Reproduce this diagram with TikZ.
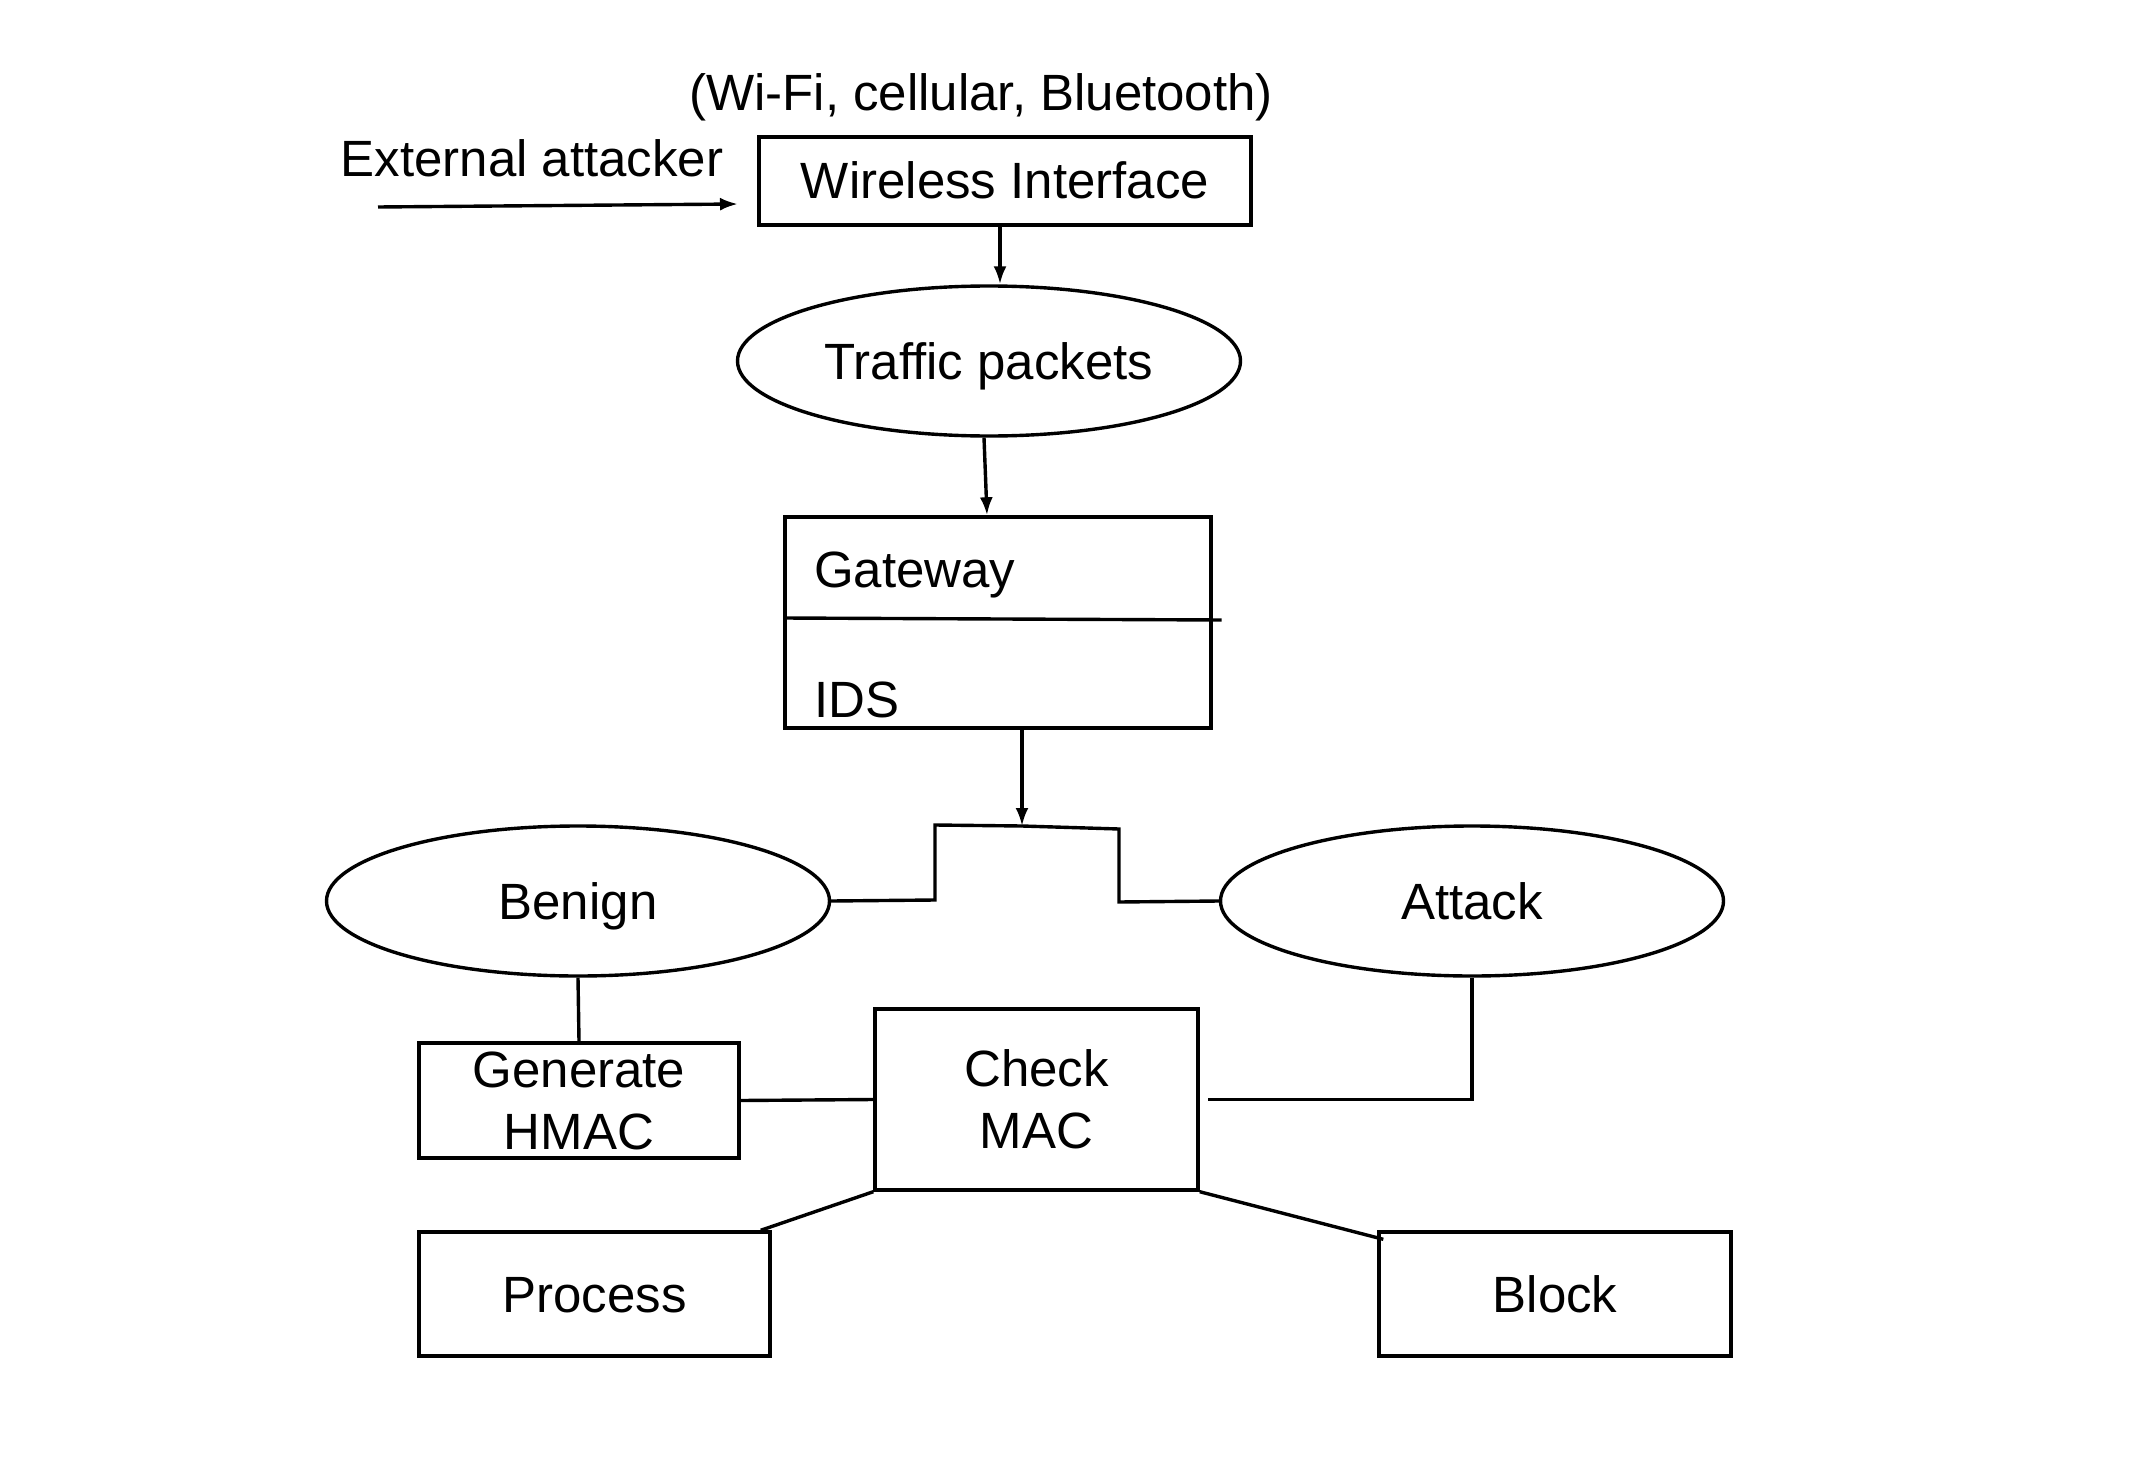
\documentclass[tikz,border=0pt]{standalone}
\usepackage{fontspec}
\setmainfont{Liberation Sans}
\usetikzlibrary{shapes.geometric,arrows.meta}
\begin{document}
\begin{tikzpicture}[x=1pt,y=-1pt,
  every node/.style={font=\fontsize{51}{62}\selectfont, inner sep=0pt},
  fixed/.style={text height=42pt, text depth=6pt},
  box/.style={draw, rectangle, line width=3.4pt},
  oval/.style={draw, ellipse, line width=3.4pt, minimum width=503pt, minimum height=150pt, fixed},
  conn/.style={line width=3.4pt},
  arr/.style={line width=3.4pt, -{Latex[length=18pt,width=13pt]}}]
\useasboundingbox (0,0) rectangle (2134,1458);
% texts
\node[fixed] (wifi) at (981,92.5) {(Wi-Fi, cellular, Bluetooth)};
\node[fixed] (ext) at (532,159) {External attacker};
% nodes
\node[box, fixed, minimum width=492pt, minimum height=88pt] (wi) at (1005,181) {Wireless Interface};
\node[oval] (tp) at (989,361) {Traffic packets};
\node[box, minimum width=426pt, minimum height=211pt] (gw) at (998,622.5) {};
\node[anchor=west, fixed] (gwt) at (814,569) {Gateway};
\node[anchor=west, fixed] (ids) at (814,699) {IDS};
\node[oval] (bn) at (578,901) {Benign};
\node[oval] (at) at (1472,901) {Attack};
\node[box, minimum width=320pt, minimum height=115pt, align=center] (gh) at (579,1100.5) {Generate\\HMAC};
\node[box, minimum width=323pt, minimum height=181pt, align=center] (cm) at (1036.5,1099.5) {Check\\MAC};
\node[box, fixed, minimum width=351pt, minimum height=124pt] (pr) at (594.5,1294) {Process};
\node[box, fixed, minimum width=352pt, minimum height=124pt] (bl) at (1555,1294) {Block};
% divider in gateway box
\draw[conn] (gw.west |- 0,618) -- ([xshift=9pt]gw.east |- 0,620);
% coordinates
\coordinate (a0) at (378,207);
\coordinate (a1) at (738,204);
\coordinate (J) at (1022,826);
% connectors
\draw[arr] (a0) -- (a1);
\draw[arr] ([xshift=-5pt]wi.south) -- ([xshift=11pt]tp.north);
\draw[arr] ([xshift=-5pt]tp.south) -- ([xshift=-11pt]gw.north);
\draw[arr] ([xshift=24pt]gw.south) -- (J);
\draw[conn] (J) -- (935,825) -- (935,900) -- (bn.east);
\draw[conn] (J) -- (1119,829) -- (1119,902) -- (at.west);
\draw[conn] (bn.south) -- (gh.north);
\draw[conn] (gh.east) -- (cm.west);
\draw[conn] (at.south) |- ([xshift=8pt]cm.east);
\draw[conn] (cm.south west) -- ([xshift=-11pt]pr.north east);
\draw[conn] (cm.south east) -- ([xshift=6pt,yshift=-9pt]bl.north west);
\end{tikzpicture}
\end{document}
